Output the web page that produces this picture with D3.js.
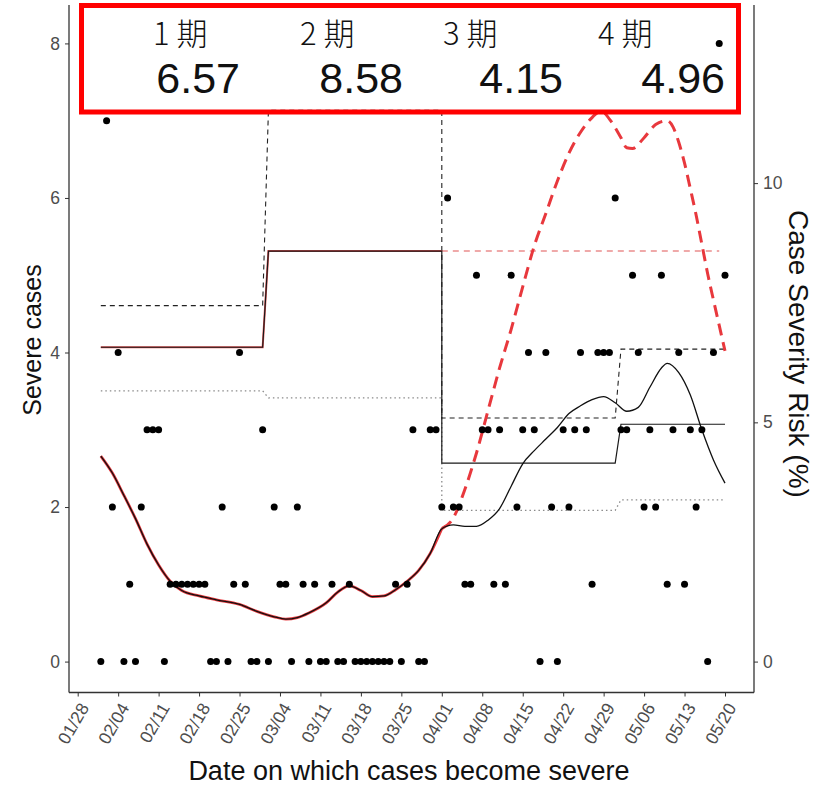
<!DOCTYPE html>
<html>
<head>
<meta charset="utf-8">
<script src="https://cdn.jsdelivr.net/npm/d3@7"></script>
<style>
  body { margin: 0; background: #fff; }
  svg text { font-family: "Liberation Sans", Arial, sans-serif; }
</style>
</head>
<body>
<svg id="chart" width="827" height="788"></svg>
<script>
// ---------------- DATA ----------------
// x-axis tick labels (2021, MM/DD)
const tickLabels = ["01/28","02/04","02/11","02/18","02/25","03/04","03/11","03/18",
                    "03/25","04/01","04/08","04/15","04/22","04/29","05/06","05/13","05/20"];

// daily severe cases, one value per day from 02/01 to 05/20
const casesFirstDay = "02/01";
const severeCases = [
  0,7,2,4,0,1,0,2,3,3,
  3,0,1,1,1,1,1,1,1,0,
  0,2,0,1,4,1,0,0,3,0,
  2,1,1,0,2,1,0,1,0,0,
  1,0,0,1,0,0,0,0,0,0,
  0,1,0,1,3,0,0,3,3,2,
  6,2,2,1,1,5,3,3,1,3,
  1,5,2,3,4,3,0,4,2,0,
  3,2,3,4,3,1,4,4,4,6,
  3,3,5,4,2,3,2,5,1,3,
  4,1,3,2,3,0,4,8,5
];

// periods and case severity risk (%) per period
const periodNames = ["1 期", "2 期", "3 期", "4 期"];
const periodStart = ["02/01", "03/02", "04/01", "05/02"];
const periodEnd   = ["03/01", "04/01", "05/01", "05/20"];
const csrEstimate = [6.57, 8.58, 4.15, 4.96];
const csrUpper    = [7.44, 11.52, 5.09, 6.53];
const csrLower    = [5.66, 5.51, 3.16, 3.38];
// counterfactual CSR kept at period-2 level
const cfCsrStart = "04/01", cfCsrEnd = "05/19";

// smoothed observed severe cases (left axis)
const smoothDates = [
  "02/01","02/03","02/05","02/07","02/09","02/11","02/13","02/15","02/18","02/21",
  "02/25","02/28","03/03","03/05","03/07","03/09","03/12","03/14","03/16","03/18",
  "03/20","03/22","03/24","03/26","03/28","03/30","04/01","04/03","04/05","04/07",
  "04/09","04/11","04/13","04/15","04/17","04/19","04/21","04/23","04/25","04/27",
  "04/29","05/01","05/03","05/05","05/07","05/09","05/10","05/12","05/14","05/16",
  "05/18","05/20"];
const smoothCases = [
  2.66,2.44,2.15,1.85,1.52,1.25,1.04,0.92,0.85,0.80,
  0.74,0.65,0.58,0.55,0.57,0.63,0.76,0.90,0.98,0.92,
  0.84,0.85,0.93,1.04,1.18,1.40,1.72,1.77,1.75,1.75,
  1.83,1.98,2.27,2.56,2.73,2.88,3.03,3.21,3.31,3.39,
  3.43,3.35,3.24,3.29,3.55,3.80,3.86,3.74,3.45,3.00,
  2.61,2.31];
// counterfactual severe cases (left axis), from 04/01
const cfDates = [
  "04/01","04/03","04/05","04/07","04/09","04/11","04/13","04/15","04/17","04/19",
  "04/21","04/23","04/25","04/27","04/28","04/29","04/30","05/02","05/03","05/04",
  "05/06","05/08","05/10","05/11","05/12","05/13","05/14","05/15","05/16","05/17",
  "05/18","05/19","05/20"];
const cfCases = [
  1.72,1.86,2.23,2.70,3.25,3.80,4.30,4.85,5.38,5.80,
  6.22,6.58,6.85,7.04,7.10,7.10,7.02,6.78,6.65,6.64,
  6.78,6.95,7.00,6.92,6.72,6.45,6.12,5.78,5.40,5.02,
  4.68,4.35,4.02];

// ---------------- LAYOUT ----------------
const W = 827, H = 788;
const panel = { left: 69, right: 754, top: 12.5, bottom: 692.5, spineTop: 5 };
const secK = 1.615; // right axis (%) per left-axis unit
const parseMD = s => { const [m, d] = s.split("/").map(Number); return new Date(2021, m - 1, d); };
const addDays = (dt, n) => new Date(dt.getFullYear(), dt.getMonth(), dt.getDate() + n);

const svg = d3.select("#chart");

const x = d3.scaleTime()
  .domain([parseMD(tickLabels[0]), parseMD(tickLabels[tickLabels.length - 1])])
  .range([77.7, 725]);
const yL = d3.scaleLinear().domain([-0.4, 8.4]).range([panel.bottom, panel.top]);
const yR = d3.scaleLinear().domain([-0.4 * secK, 8.4 * secK]).range([panel.bottom, panel.top]);

const axisColor = "#333";
const tickTextColor = "#4d4d4d";
const tickFont = "17.5px";

// ---------------- AXES ----------------
const gL = svg.append("g").attr("transform", `translate(${panel.left},0)`)
  .call(d3.axisLeft(yL).tickValues([0, 2, 4, 6, 8]).tickSize(4).tickSizeOuter(0).tickPadding(5));
gL.select(".domain").remove();
gL.selectAll(".tick line").attr("stroke", axisColor);
gL.selectAll("text").attr("fill", tickTextColor).style("font-size", tickFont);
svg.append("line").attr("x1", panel.left).attr("x2", panel.left)
  .attr("y1", panel.spineTop).attr("y2", panel.bottom).attr("stroke", axisColor).attr("stroke-width", 1.3);

const gR = svg.append("g").attr("transform", `translate(${panel.right},0)`)
  .call(d3.axisRight(yR).tickValues([0, 5, 10]).tickSize(4).tickSizeOuter(0).tickPadding(5));
gR.select(".domain").remove();
gR.selectAll(".tick line").attr("stroke", axisColor);
gR.selectAll("text").attr("fill", tickTextColor).style("font-size", tickFont);
svg.append("line").attr("x1", panel.right).attr("x2", panel.right)
  .attr("y1", panel.spineTop).attr("y2", panel.bottom).attr("stroke", axisColor).attr("stroke-width", 1.3);

const gB = svg.append("g").attr("transform", `translate(0,${panel.bottom})`)
  .call(d3.axisBottom(x).tickValues(tickLabels.map(parseMD))
    .tickFormat(d3.timeFormat("%m/%d")).tickSize(4).tickSizeOuter(0));
gB.select(".domain").remove();
gB.selectAll(".tick line").attr("stroke", axisColor);
gB.selectAll("text")
  .attr("fill", tickTextColor).style("font-size", tickFont)
  .attr("x", 0).attr("y", 0).attr("dy", "0.35em")
  .attr("text-anchor", "end")
  .attr("transform", "translate(6,12) rotate(-60)");
svg.append("line").attr("x1", panel.left).attr("x2", panel.right)
  .attr("y1", panel.bottom).attr("y2", panel.bottom).attr("stroke", axisColor).attr("stroke-width", 1.3);

// axis titles
svg.append("text").attr("transform", "translate(41,340) rotate(-90)")
  .attr("text-anchor", "middle").style("font-size", "25px").attr("fill", "#111").text("Severe cases");
svg.append("text").attr("transform", "translate(789,354) rotate(90)")
  .attr("text-anchor", "middle").style("font-size", "28px").attr("fill", "#111").text("Case Severity Risk (%)");
svg.append("text").attr("x", 409).attr("y", 780)
  .attr("text-anchor", "middle").style("font-size", "27px").attr("fill", "#111")
  .text("Date on which cases become severe");

// ---------------- STEP LINES (right axis) ----------------
function stepPoints(values) {
  const pts = [];
  values.forEach((v, i) => {
    pts.push([parseMD(periodStart[i]), v]);
    pts.push([parseMD(periodEnd[i]), v]);
  });
  return pts;
}
const lineR = d3.line().x(d => x(d[0])).y(d => yR(d[1]));
const plot = svg.append("g");

plot.append("path").datum(stepPoints(csrLower)).attr("d", lineR)
  .attr("fill", "none").attr("stroke", "#8a8a8a").attr("stroke-width", 1.3).attr("stroke-dasharray", "1.5,3");
plot.append("path").datum(stepPoints(csrUpper)).attr("d", lineR)
  .attr("fill", "none").attr("stroke", "#222").attr("stroke-width", 1.1).attr("stroke-dasharray", "5,4");
plot.append("path").datum(stepPoints(csrEstimate).slice(0, 4)).attr("d", lineR)
  .attr("fill", "none").attr("stroke", "#e05050").attr("stroke-width", 2);
plot.append("path").datum([[parseMD(cfCsrStart), csrEstimate[1]], [parseMD(cfCsrEnd), csrEstimate[1]]]).attr("d", lineR)
  .attr("fill", "none").attr("stroke", "#e05555").attr("stroke-width", 1.1).attr("stroke-dasharray", "6,5");
plot.append("path").datum(stepPoints(csrEstimate)).attr("d", lineR)
  .attr("fill", "none").attr("stroke", "#1a1a1a").attr("stroke-width", 1.2);

// ---------------- SMOOTH CURVES (left axis) ----------------
const lineL = d3.line().x(d => x(d[0])).y(d => yL(d[1])).curve(d3.curveMonotoneX);
const smoothPts = smoothDates.map((s, i) => [parseMD(s), smoothCases[i]]);
const cfPts = cfDates.map((s, i) => [parseMD(s), cfCases[i]]);
const cfStartDate = parseMD(cfDates[0]);
plot.append("path").datum(smoothPts.filter(d => d[0] <= cfStartDate)).attr("d", lineL)
  .attr("fill", "none").attr("stroke", "#e8383d").attr("stroke-width", 2.8);
plot.append("path").datum(cfPts).attr("d", lineL)
  .attr("fill", "none").attr("stroke", "#e8383d").attr("stroke-width", 3)
  .attr("stroke-dasharray", "12,7");
plot.append("path").datum(smoothPts).attr("d", lineL)
  .attr("fill", "none").attr("stroke", "#111").attr("stroke-width", 1.3);

// ---------------- DOTS ----------------
const day0 = parseMD(casesFirstDay);
plot.selectAll("circle.case").data(severeCases).join("circle")
  .attr("class", "case")
  .attr("cx", (d, i) => x(addDays(day0, i)))
  .attr("cy", d => yL(d))
  .attr("r", 3.5)
  .attr("fill", "#000");

// ---------------- ANNOTATION BOX ----------------
const box = { x: 81.5, y: 5.5, w: 657, h: 106.5 };
svg.append("rect").attr("x", box.x).attr("y", box.y).attr("width", box.w).attr("height", box.h)
  .attr("fill", "none").attr("stroke", "#ff0000").attr("stroke-width", 5);
const nameX = [153, 300, 443, 598];
const valueRightX = [240, 403, 563, 725];
svg.selectAll("text.pname").data(periodNames).join("text")
  .attr("class", "pname")
  .attr("x", (d, i) => nameX[i]).attr("y", 45)
  .style("font-family", "'Noto Sans CJK JP', sans-serif").style("font-size", "31px")
  .style("font-weight", "300")
  .attr("fill", "#111").text(d => d);
svg.selectAll("text.pval").data(csrEstimate).join("text")
  .attr("class", "pval")
  .attr("x", (d, i) => valueRightX[i]).attr("y", 93)
  .attr("text-anchor", "end")
  .style("font-size", "43px").attr("fill", "#111")
  .text(d => d3.format(".2f")(d));
</script>
</body>
</html>
